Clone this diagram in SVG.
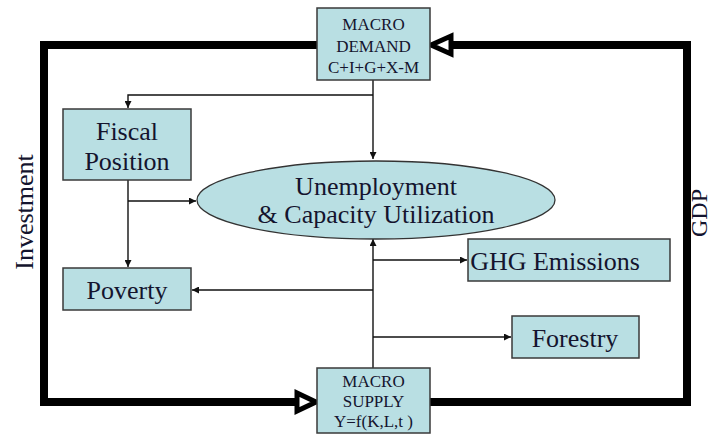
<svg xmlns="http://www.w3.org/2000/svg" width="713" height="435" viewBox="0 0 713 435">
<style>
.box{fill:#b9dfe3;stroke:#3a3a3a;stroke-width:1.5}
.t{font-family:"Liberation Serif",serif;fill:#14142e;text-anchor:middle}
.big{font-size:26px}
.sm{font-size:17px}
.thin{fill:none;stroke:#111;stroke-width:1.4}
.thick{fill:none;stroke:#000;stroke-width:8}
.open{fill:#fff;stroke:#000;stroke-width:5;stroke-linejoin:miter}
</style>
<defs>
<marker id="ah" viewBox="0 0 10 10" refX="10" refY="5" markerWidth="7" markerHeight="7" markerUnits="userSpaceOnUse" orient="auto">
<path d="M0,0 L10,5 L0,10 z" fill="#111"/>
</marker>
</defs>
<rect width="713" height="435" fill="#fff"/>
<g id="connectors">
<path class="thick" d="M317,45 H44 V402 H300"/>
<path class="thick" d="M430,402 H687 V45 H452"/>
<polygon class="open" points="431,45 451,36 451,54"/>
<polygon class="open" points="316,402 297,393 297,411"/>
<path class="thin" d="M373,80 V159" marker-end="url(#ah)"/>
<path class="thin" d="M373,95 H128 V108" marker-end="url(#ah)"/>
<path class="thin" d="M128,180 V267" marker-end="url(#ah)"/>
<path class="thin" d="M128,201 H196" marker-end="url(#ah)"/>
<path class="thin" d="M373,368 V239" marker-end="url(#ah)"/>
<path class="thin" d="M373,260 H467" marker-end="url(#ah)"/>
<path class="thin" d="M373,290 H192" marker-end="url(#ah)"/>
<path class="thin" d="M373,337 H511" marker-end="url(#ah)"/>
</g>
<g id="demand">
<rect class="box" x="317" y="8" width="113" height="72"/>
<text class="t sm" x="373.5" y="30">MACRO</text>
<text class="t sm" x="373.5" y="52">DEMAND</text>
<text class="t sm" x="373.5" y="73">C+I+G+X-M</text>
</g>
<g id="supply">
<rect class="box" x="317" y="368" width="113" height="65"/>
<text class="t sm" x="373.5" y="387">MACRO</text>
<text class="t sm" x="373.5" y="407">SUPPLY</text>
<text class="t sm" x="373.5" y="427">Y=f(K,L,t )</text>
</g>
<g id="fiscal">
<rect class="box" x="63" y="109" width="128" height="71"/>
<text class="t big" x="127" y="140">Fiscal</text>
<text class="t big" x="127" y="170">Position</text>
</g>
<g id="poverty">
<rect class="box" x="63" y="268" width="128" height="42"/>
<text class="t big" x="127" y="299">Poverty</text>
</g>
<g id="unemployment">
<ellipse cx="376" cy="200" rx="179" ry="39" fill="#b9dfe3" stroke="#333" stroke-width="1.3"/>
<text class="t big" x="376" y="195">Unemployment</text>
<text class="t big" x="376" y="223">&amp; Capacity Utilization</text>
</g>
<g id="ghg">
<rect class="box" x="468" y="239" width="202" height="42"/>
<text class="t big" x="555" y="270">GHG Emissions</text>
</g>
<g id="forestry">
<rect class="box" x="512" y="316" width="127" height="42"/>
<text class="t big" x="575" y="347">Forestry</text>
</g>
<g id="labels">
<text class="t big" transform="translate(33,212) rotate(-90)">Investment</text>
<text class="t" font-size="24" style="font-size:24px" transform="translate(707,213) rotate(-90)">GDP</text>
</g>
</svg>
